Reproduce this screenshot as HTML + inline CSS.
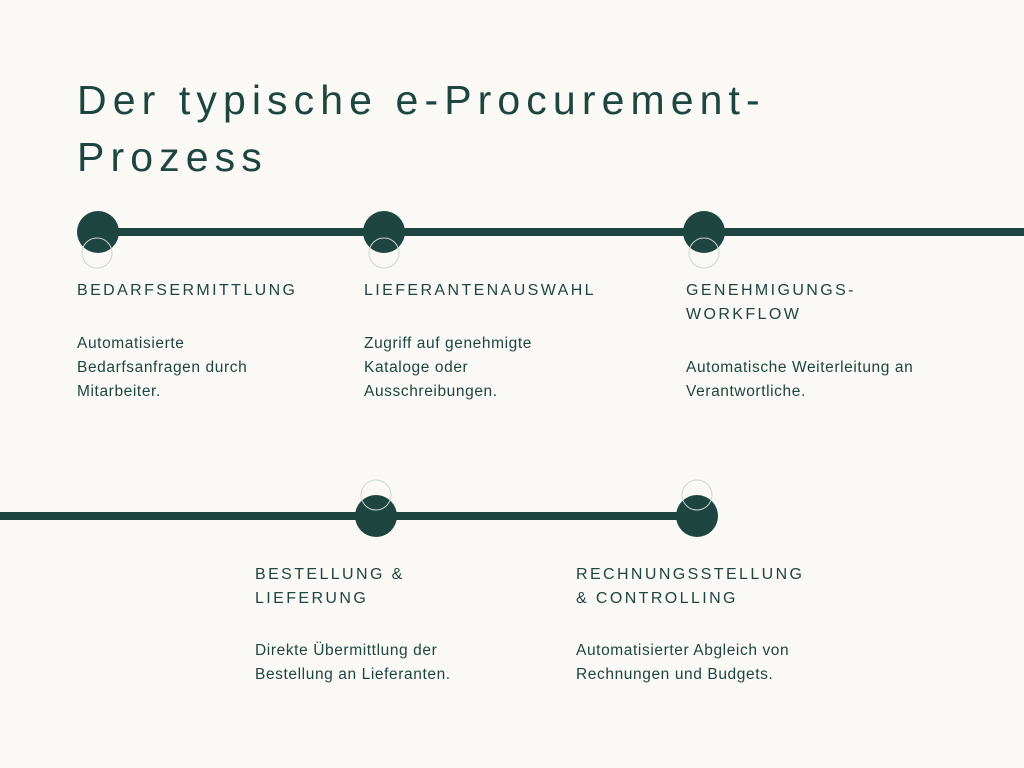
<!DOCTYPE html>
<html><head><meta charset="utf-8"><style>
body{margin:0;width:1024px;height:768px;background:#faf9f6;position:relative;overflow:hidden;font-family:"Liberation Sans",sans-serif;color:#1f4540}
.t{position:absolute;left:77px;top:72px;font-size:41px;letter-spacing:6.1px;line-height:57px;margin:0;font-weight:400;white-space:nowrap}
.h{position:absolute;font-size:16px;letter-spacing:2.4px;line-height:24px;width:280px}
.p{position:absolute;font-size:15.5px;letter-spacing:0.6px;line-height:24px;width:300px}
</style></head><body>
<h1 class="t">Der typische e-Procurement-<br>Prozess</h1>
<svg width="1024" height="768" style="position:absolute;left:0;top:0">
<rect x="98" y="228" width="926" height="8" fill="#1f4540"/>
<rect x="0" y="512" width="697" height="8" fill="#1f4540"/>
<g fill="#1f4540">
<circle cx="98" cy="232" r="21"/><circle cx="384" cy="232" r="21"/><circle cx="704" cy="232" r="21"/>
<circle cx="376" cy="516" r="21"/><circle cx="697" cy="516" r="21"/></g>
<g fill="none" stroke="#c9d6d0" stroke-width="1">
<circle cx="97" cy="253" r="15"/><circle cx="384" cy="253" r="15"/><circle cx="704" cy="253" r="15"/>
<circle cx="376" cy="495" r="15"/><circle cx="697" cy="495" r="15"/></g>
</svg>
<div class="h" style="left:77px;top:279px">BEDARFSERMITTLUNG</div>
<div class="p" style="left:77px;top:332px">Automatisierte<br>Bedarfsanfragen durch<br>Mitarbeiter.</div>
<div class="h" style="left:364px;top:279px">LIEFERANTENAUSWAHL</div>
<div class="p" style="left:364px;top:332px">Zugriff auf genehmigte<br>Kataloge oder<br>Ausschreibungen.</div>
<div class="h" style="left:686px;top:279px">GENEHMIGUNGS-<br>WORKFLOW</div>
<div class="p" style="left:686px;top:356px">Automatische Weiterleitung an<br>Verantwortliche.</div>
<div class="h" style="left:255px;top:563px">BESTELLUNG &amp;<br>LIEFERUNG</div>
<div class="p" style="left:255px;top:639px">Direkte Übermittlung der<br>Bestellung an Lieferanten.</div>
<div class="h" style="left:576px;top:563px">RECHNUNGSSTELLUNG<br>&amp; CONTROLLING</div>
<div class="p" style="left:576px;top:639px">Automatisierter Abgleich von<br>Rechnungen und Budgets.</div>
</body></html>
